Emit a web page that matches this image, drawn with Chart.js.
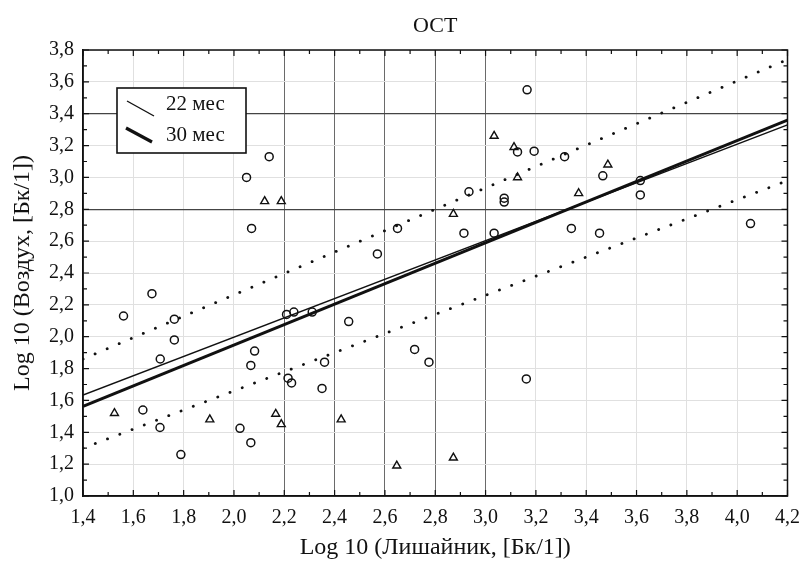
<!DOCTYPE html>
<html>
<head>
<meta charset="utf-8">
<script src="https://cdn.jsdelivr.net/npm/chart.js@4.4.1/dist/chart.umd.min.js"></script>
<style>
html,body{margin:0;padding:0;background:#fff;}
#wrap{width:810px;height:562px;}
</style>
</head>
<body>
<div id="wrap"><canvas id="c" width="810" height="562"></canvas></div>
<script>
// circles (22 мес)
const circleX=[2.14,2.05,2.07,2.65,2.57,3.165,3.127,3.193,3.314,3.466,2.934,3.074,3.074,3.615,3.615,2.914,3.034,3.341,3.453,4.053,
1.674,1.561,1.763,1.763,1.707,2.082,2.067,2.209,2.238,2.311,2.456,2.360,2.215,2.229,2.350,2.718,2.775,1.638,1.706,2.024,2.067,1.789,3.162];
const circleY=[3.13,3.00,2.68,2.68,2.52,3.55,3.16,3.165,3.13,3.01,2.91,2.87,2.845,2.89,2.98,2.65,2.65,2.68,2.65,2.71,
2.27,2.13,2.11,1.98,1.86,1.91,1.82,2.14,2.155,2.155,2.095,1.84,1.74,1.71,1.675,1.92,1.84,1.54,1.43,1.425,1.335,1.26,1.735];
// triangles (30 мес)
const triX=[2.122,2.188,3.034,3.113,3.486,3.127,3.370,2.872,1.525,1.904,2.166,2.188,2.426,2.647,2.872];
const triY=[2.85,2.85,3.26,3.19,3.08,3.00,2.90,2.77,1.52,1.48,1.515,1.45,1.48,1.19,1.24];
// regression lines and dotted bounds (ends at x = 1.4 and 4.2)
const lineX=[1.4,4.2];
const line22=[1.634,3.33];
const line30=[1.563,3.36];
const upperBand=[1.86,3.74];
const lowerBand=[1.30,2.98];
const seriesNames=["22 мес","30 мес"];

const xTicks=[1.4,1.6,1.8,2.0,2.2,2.4,2.6,2.8,3.0,3.2,3.4,3.6,3.8,4.0,4.2];
const yTicks=[1.0,1.2,1.4,1.6,1.8,2.0,2.2,2.4,2.6,2.8,3.0,3.2,3.4,3.6,3.8];

const pts=(xs,ys)=>xs.map((x,i)=>({x:x,y:ys[i]}));
const comma=v=>Number(v).toFixed(1).replace(".",",");
const serif="'Liberation Serif', 'DejaVu Serif', serif";

const frame={
id:"frame",
afterDraw(chart){
const ctx=chart.ctx;
const a=chart.chartArea;
const sx=chart.scales.x, sy=chart.scales.y;
ctx.save();
ctx.strokeStyle="#111";
ctx.lineWidth=1.5;
ctx.strokeRect(a.left,a.top,a.right-a.left,a.bottom-a.top);
// inward ticks
ctx.lineWidth=1.2;
for(let i=14;i<=42;i++){
const px=sx.getPixelForValue(i/10);
const len=i%2===0?6:4;
ctx.beginPath();
ctx.moveTo(px,a.bottom);ctx.lineTo(px,a.bottom-len);
ctx.moveTo(px,a.top);ctx.lineTo(px,a.top+len);
ctx.stroke();
}
for(let i=10;i<=38;i++){
const py=sy.getPixelForValue(i/10);
const len=i%2===0?6:4;
ctx.beginPath();
ctx.moveTo(a.left,py);ctx.lineTo(a.left+len,py);
ctx.moveTo(a.right,py);ctx.lineTo(a.right-len,py);
ctx.stroke();
}
// title
ctx.fillStyle="#111";
ctx.font="22px "+serif;
ctx.textAlign="center";
ctx.textBaseline="middle";
ctx.fillText("ОСТ",(a.left+a.right)/2,26);
// legend box
const bx=117,by=88,bw=129,bh=65;
ctx.fillStyle="#fff";
ctx.fillRect(bx,by,bw,bh);
ctx.lineWidth=1.6;
ctx.strokeRect(bx,by,bw,bh);
ctx.beginPath();
ctx.lineWidth=1.4;
ctx.moveTo(127,101);ctx.lineTo(154,116);
ctx.stroke();
ctx.beginPath();
ctx.lineWidth=3.2;
ctx.moveTo(126,128);ctx.lineTo(152,142);
ctx.stroke();
ctx.fillStyle="#111";
ctx.textAlign="left";
ctx.font="21px "+serif;
ctx.fillText(seriesNames[0],166,104);
ctx.fillText(seriesNames[1],166,135);
ctx.restore();
}
};

const darkX=[2.2,2.4,2.6,2.8,3.0];
const darkY=[2.8,3.4];
const near=(v,list)=>list.some(d=>Math.abs(d-v)<1e-6);

new Chart(document.getElementById("c"),{
type:"scatter",
data:{
datasets:[
{label:seriesNames[0],data:pts(circleX,circleY),pointStyle:"circle",pointRadius:4,
backgroundColor:"rgba(255,255,255,0)",borderColor:"#111",borderWidth:1.5},
{label:seriesNames[1],data:pts(triX,triY),pointStyle:"triangle",pointRadius:4.6,
backgroundColor:"rgba(255,255,255,0)",borderColor:"#111",borderWidth:1.4},
{type:"line",label:"fit22",data:pts(lineX,line22),borderColor:"#111",borderWidth:1.5,pointRadius:0,fill:false},
{type:"line",label:"fit30",data:pts(lineX,line30),borderColor:"#111",borderWidth:3,pointRadius:0,fill:false},
{type:"line",label:"upper",data:pts(lineX,upperBand),borderColor:"#111",borderWidth:2.8,borderDash:[0.1,13],
borderCapStyle:"round",pointRadius:0,fill:false},
{type:"line",label:"lower",data:pts(lineX,lowerBand),borderColor:"#111",borderWidth:2.8,borderDash:[0.1,13],
borderCapStyle:"round",pointRadius:0,fill:false}
]
},
options:{
responsive:false,
animation:false,
layout:{padding:{left:0,right:17,top:50,bottom:0}},
plugins:{legend:{display:false},title:{display:false},tooltip:{enabled:false}},
scales:{
x:{
type:"linear",min:1.4,max:4.2,
afterBuildTicks(s){s.ticks=xTicks.map(v=>({value:v}));},
afterFit(s){s.height=66;},
grid:{drawTicks:false,
color:c=>near(c.tick.value,darkX)?"#6a6a6a":"#e0e0e0",
lineWidth:1},
border:{display:true,color:"#111",width:1.5},
ticks:{padding:10,color:"#111",font:{family:serif,size:20},callback:v=>comma(v)},
title:{display:true,text:"Log 10 (Лишайник, [Бк/1])",color:"#111",font:{family:serif,size:24},padding:{top:0,bottom:0}}
},
y:{
type:"linear",min:1.0,max:3.8,
afterBuildTicks(s){s.ticks=yTicks.map(v=>({value:v}));},
afterFit(s){s.width=83;},
grid:{drawTicks:false,
color:c=>near(c.tick.value,darkY)?"#444":"#e0e0e0",
lineWidth:c=>near(c.tick.value,darkY)?1.3:1},
border:{display:true,color:"#111",width:1.5},
ticks:{padding:9,color:"#111",font:{family:serif,size:20},callback:v=>comma(v)},
title:{display:true,text:"Log 10 (Воздух, [Бк/1])",color:"#111",font:{family:serif,size:24},padding:{top:8,bottom:0}}
}
}
},
plugins:[frame]
});
</script>
</body>
</html>
